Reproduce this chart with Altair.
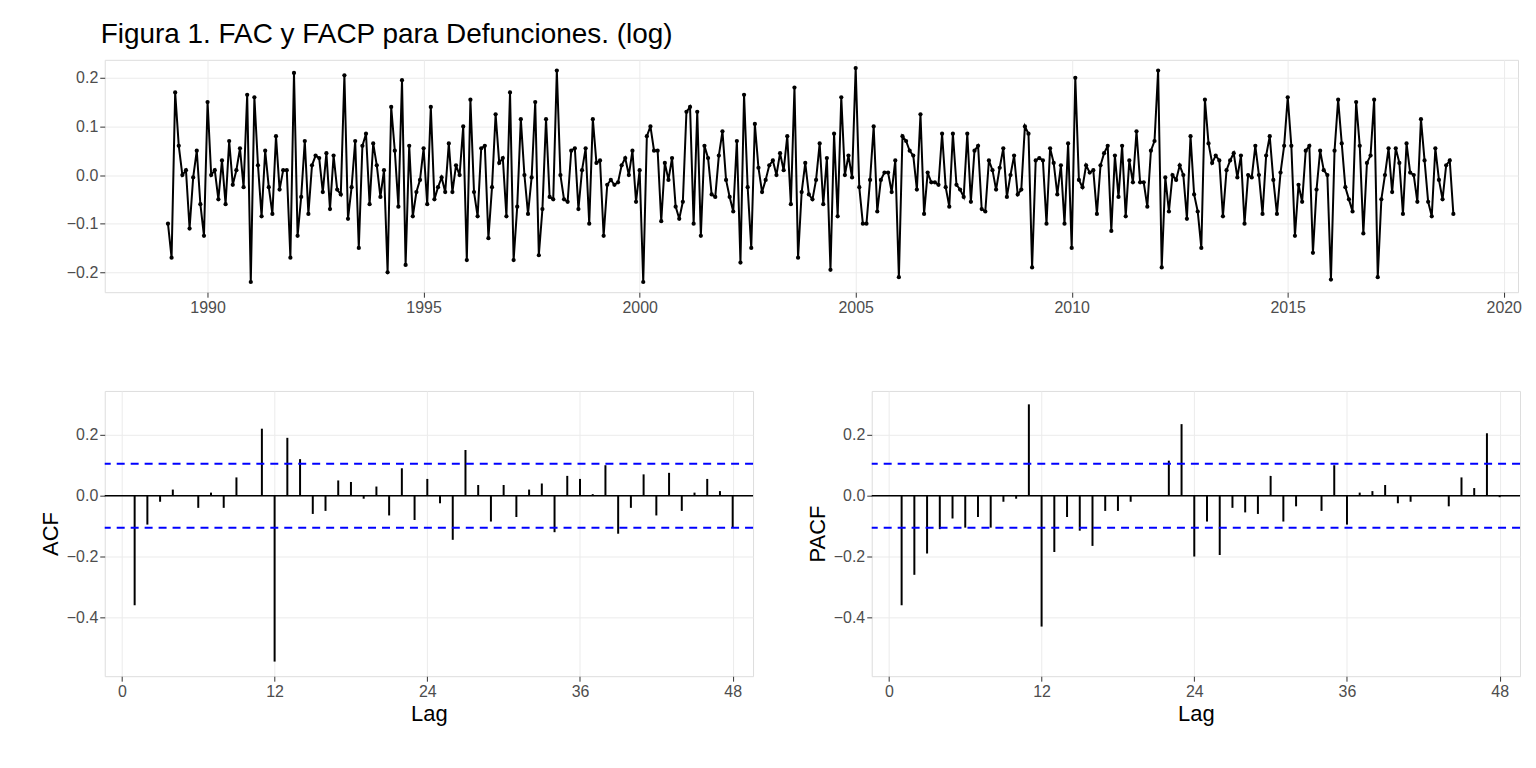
import altair as alt
import pandas as pd

series = [
-0.10,-0.17,0.17,0.06,0.00,0.01,-0.11,-0.005,0.05,-0.06,-0.125,0.15,
0.00,0.01,-0.05,0.03,-0.06,0.07,-0.02,0.01,0.055,-0.025,0.165,-0.22,
0.16,0.02,-0.085,0.05,-0.025,-0.08,0.08,-0.03,0.01,0.01,-0.17,0.21,
-0.125,-0.045,0.07,-0.08,0.02,0.04,0.035,-0.035,0.045,-0.07,0.04,-0.03,
-0.04,0.205,-0.09,-0.025,0.07,-0.15,0.06,0.085,-0.06,0.065,0.02,-0.045,
0.01,-0.20,0.14,0.05,-0.065,0.195,-0.185,0.06,-0.085,-0.035,-0.01,0.055,
-0.06,0.14,-0.05,-0.025,-0.005,-0.035,0.065,-0.035,0.02,0.00,0.10,-0.175,
0.155,-0.035,-0.085,0.055,0.06,-0.13,-0.025,0.125,0.025,0.035,-0.085,0.17,
-0.175,-0.065,0.115,0.00,-0.08,-0.005,0.15,-0.165,-0.07,0.115,-0.045,-0.05,
0.215,0.00,-0.05,-0.055,0.05,0.055,-0.07,0.01,0.055,-0.10,0.115,0.025,
0.03,-0.125,-0.02,-0.01,-0.02,-0.015,0.02,0.035,0.00,0.05,-0.055,0.01,
-0.22,0.08,0.10,0.05,0.05,-0.095,0.025,-0.01,0.035,-0.065,-0.09,-0.055,
0.13,0.14,-0.10,0.13,-0.125,0.06,0.035,-0.04,-0.045,0.04,0.09,-0.01,
-0.045,-0.075,0.07,-0.18,0.165,-0.025,-0.15,0.105,0.015,-0.035,-0.01,0.02,
0.03,0.00,0.045,0.01,0.08,-0.06,0.18,-0.17,-0.035,0.025,-0.04,-0.05,
-0.01,0.065,-0.06,0.035,-0.195,0.085,-0.085,0.16,0.00,0.04,-0.005,0.22,
-0.025,-0.10,-0.10,-0.01,0.10,-0.075,-0.01,0.005,0.005,-0.035,0.03,-0.21,
0.08,0.07,0.05,0.04,-0.03,0.125,-0.08,0.005,-0.015,-0.015,-0.02,0.085,
-0.025,-0.065,0.085,-0.02,-0.03,-0.045,0.085,-0.055,0.05,0.06,-0.07,-0.075,
0.03,0.01,-0.03,0.015,0.055,-0.045,0.00,0.04,-0.04,-0.03,0.10,0.085,
-0.19,0.03,0.035,0.03,-0.10,0.055,0.025,-0.04,0.02,-0.10,0.065,-0.15,
0.20,-0.01,-0.025,0.02,0.005,0.01,-0.08,0.02,0.045,0.06,-0.115,0.04,
-0.045,0.06,-0.085,0.03,-0.015,0.09,-0.015,-0.015,-0.065,0.05,0.07,0.215,
-0.19,-0.005,-0.075,0.00,-0.01,0.02,0.00,-0.09,0.08,-0.04,-0.075,-0.15,
0.155,0.065,0.025,0.04,0.03,-0.085,0.01,0.03,0.045,-0.005,0.04,-0.10,
0.00,-0.005,0.06,0.00,-0.08,0.04,0.08,-0.01,-0.08,0.005,0.06,0.16,
0.06,-0.125,-0.02,-0.055,0.05,0.06,-0.16,-0.03,0.05,0.01,0.00,-0.215,
0.05,0.155,0.065,-0.025,-0.05,-0.075,0.15,0.06,-0.12,0.025,0.04,0.155,
-0.21,-0.05,0.00,0.055,-0.035,0.055,0.025,-0.08,0.065,0.005,0.00,-0.055,
0.115,0.03,-0.055,-0.085,0.055,-0.01,-0.05,0.02,0.03,-0.08]

acf = [-0.36,-0.095,-0.02,0.02,0.0,-0.04,0.01,-0.04,0.06,0.0,0.22,-0.545,
0.19,0.12,-0.06,-0.05,0.05,0.045,-0.01,0.03,-0.065,0.09,-0.08,0.055,
-0.025,-0.145,0.15,0.035,-0.085,0.035,-0.07,0.02,0.04,-0.12,0.065,0.055,
0.005,0.10,-0.125,-0.04,0.07,-0.065,0.075,-0.05,0.01,0.055,0.015,-0.105]
pacf = [-0.36,-0.26,-0.19,-0.11,-0.075,-0.105,-0.07,-0.105,-0.02,-0.01,0.30,-0.43,
-0.185,-0.07,-0.115,-0.165,-0.05,-0.05,-0.02,0.0,0.0,0.115,0.235,-0.20,
-0.085,-0.195,-0.04,-0.055,-0.06,0.065,-0.085,-0.035,0.0,-0.05,0.10,-0.095,
0.01,0.015,0.035,-0.025,-0.02,0.0,0.0,-0.035,0.06,0.025,0.205,-0.005]
lags = list(range(1, 49))
ci = 0.105

ts = pd.DataFrame({"t": [1989 + 1/12 + i/12 for i in range(len(series))], "v": series})

ax = dict(labelFontSize=16, labelColor="#4d4d4d", titleFontSize=22, titleFontWeight="normal",
          titleColor="black", gridColor="#ebebeb", tickColor="#333333", domain=False,
          labelFont="Liberation Sans", titleFont="Liberation Sans")

xs = alt.X("t:Q", scale=alt.Scale(domain=[1987.62, 2020.33], nice=False, zero=False),
           axis=alt.Axis(values=[1990,1995,2000,2005,2010,2015,2020], format="d", title=None, **ax))
ys = alt.Y("v:Q", scale=alt.Scale(domain=[-0.241, 0.237], nice=False),
           axis=alt.Axis(values=[-0.2,-0.1,0,0.1,0.2], format=".1f", title=None, **ax))
base = alt.Chart(ts)
top = (base.mark_line(color="black", strokeWidth=2).encode(x=xs, y=ys)
       + base.mark_circle(color="black", size=18, opacity=1).encode(x=xs, y=ys)).properties(width=1417, height=233)

def corr_panel(vals, name):
    df = pd.DataFrame({"lag": lags, "v": vals, "z": [0]*len(lags)})
    c = alt.Chart(df)
    x = alt.X("lag:Q", scale=alt.Scale(domain=[-1.35, 49.6], nice=False),
              axis=alt.Axis(values=[0,12,24,36,48], title="Lag", **ax))
    y = alt.Y("v:Q", scale=alt.Scale(domain=[-0.593, 0.344], nice=False),
              axis=alt.Axis(values=[-0.4,-0.2,0,0.2], format=".1f", title=name, **ax))
    bars = c.mark_rule(color="black", strokeWidth=2).encode(x=x, y=y, y2="z:Q")
    lines = pd.DataFrame({"h": [0, ci, -ci], "k": ["z", "p", "n"]})
    zero = alt.Chart(lines[lines.k == "z"]).mark_rule(color="black", strokeWidth=1.5).encode(y="h:Q")
    dash = alt.Chart(lines[lines.k != "z"]).mark_rule(color="blue", strokeWidth=2, strokeDash=[8, 6]).encode(y="h:Q")
    return (bars + zero + dash).properties(width=650, height=286)

bottom = alt.hconcat(corr_panel(acf, "ACF"), corr_panel(pacf, "PACF"), spacing=50)

chart = alt.vconcat(top, bottom, spacing=74).properties(
    padding={"left": 30, "top": 12, "right": 5, "bottom": 5},
    title=alt.TitleParams("Figura 1. FAC y FACP para Defunciones. (log)", fontSize=28, fontWeight="normal",
                          anchor="start", font="Liberation Sans", color="black", offset=10, dx=62)
).configure_view(stroke="black", strokeWidth=1.5).configure(background="white")

chart.save("out.html", embed_options={"renderer": "svg", "actions": False})
